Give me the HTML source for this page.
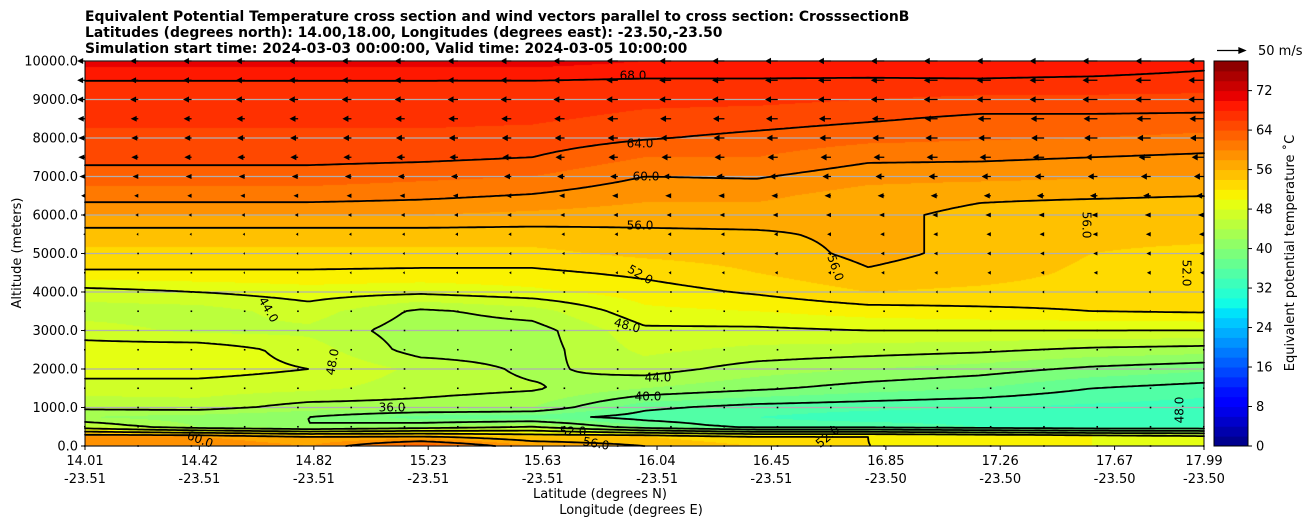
<!DOCTYPE html>
<html><head><meta charset="utf-8">
<style>
body{margin:0;background:#fff;width:1308px;height:526px;overflow:hidden;font-family:"DejaVu Sans","Liberation Sans",sans-serif;}
#wrap{position:relative;width:1308px;height:526px;}
canvas{position:absolute;left:85px;top:61px;}
svg{position:absolute;left:0;top:0;font-family:"DejaVu Sans","Liberation Sans",sans-serif;}
</style></head>
<body>
<div id="wrap">
<canvas id="fill" width="1119" height="385"></canvas>
<svg id="svg" width="1308" height="526"></svg>
</div>
<script>
// ---- data ----
const colFrac=[0,0.1,0.2,0.3,0.4,0.5,0.6,0.7,0.8,0.9,1.0];
const altLevels=[0,250,500,750,1000,1500,2000,2500,3000,3500,4000,4500,5000,5500,6000,6500,7000,7500,8000,8500,9000,9500,10000];
const theta0=[60,58,46,42,44.5,47,49,49,47,45,47,51.7,53.5,55,58,61,63,64.7,65.5,66.5,67.3,68,71];
const theta1=[60,58,42,41,45,47,49,49.5,45.5,45,48,51.7,53.5,55,58,61,63,64.7,65.5,66.5,67.3,68,71];
const theta2=[58,56,40,40,43,46.5,48,47,45.5,47,49,51.7,53.5,55,58,61,63,64.7,65.5,66.5,67.3,68,71];
const theta3=[64,56,42,37,43,45,45.5,43,42.8,43.5,48.5,51.5,53.5,55,58,60.5,62.5,64.5,65.5,66.5,67.3,68,71];
const theta4=[58,54,44,37,42,44.3,43.5,43,43,45,49.5,51.5,53.5,55,57.5,59.8,62,64,65.3,66.3,67.2,68,71];
const theta5=[56,54,38,35,36.5,42,45,46.5,47.5,49.5,51,52.5,54.5,55.5,57,58.5,60,62,64.2,65.5,66.5,67.8,70];
const theta6=[54,52,35,34,35,40.5,43,45.5,47.5,50,52.3,54,55,55.7,57,58.5,60.2,62,63.4,65,66.5,67.8,70];
const theta7=[52,52,35,33,34.5,39,42,45,48,51,54,55.8,56.5,56.5,56.5,57,58.8,60.5,62.6,64.3,66,67.7,70];
const theta8=[52,51,34,33,34,38,41,44.5,48,51.5,53.5,55,55.5,55.5,55.5,56.3,58.6,60.4,62.2,63.5,65.5,67.8,70];
const theta9=[50,50,33,32.5,33.5,36,39.5,43.5,48,52,53,53.5,54,54.5,55,56.2,58.2,60,62,63.5,65.5,67.5,70];
const theta10=[50,49,33,32,33,35,38.5,43,48,52.3,53,53,53.5,54.5,55,56,58,59.6,61.5,63.3,65.5,67,69];
const thetaCols=[theta0,theta1,theta2,theta3,theta4,theta5,theta6,theta7,theta8,theta9,theta10];
const contourLevels=[36,40,44,48,52,56,60,64,68];
const windLeft=[0,1,1,1,1,1,1,1,1,2,2,3,5,7,10,12,12,13,14,14,14];
const windRight=[0,1,1,1,1,1,2,3,4,7,8,9,11,14,18,22,25,26,28,28,28];
const xTickLat=["14.01","14.42","14.82","15.23","15.63","16.04","16.45","16.85","17.26","17.67","17.99"];
const xTickLon=["-23.51","-23.51","-23.51","-23.51","-23.51","-23.51","-23.51","-23.50","-23.50","-23.50","-23.50"];
const xTickFrac=[0,0.1022,0.2045,0.3067,0.409,0.5112,0.6134,0.7157,0.8179,0.9201,1.0];
const yTicks=[0,1000,2000,3000,4000,5000,6000,7000,8000,9000,10000];
const cbTicks=[0,8,16,24,32,40,48,56,64,72];
// ---- layout ----
const PX=85,PY=61,PW=1119,PH=385,CMAX=78;
const xS=f=>PX+f*PW, yS=a=>PY+PH-a/10000*PH;
const NS='http://www.w3.org/2000/svg';
const svg=document.getElementById('svg');
function mk(t,a,p){const e=document.createElementNS(NS,t);for(const k in a)e.setAttribute(k,a[k]);(p||svg).appendChild(e);return e;}
function interp(pts,t){for(let i=0;i<pts.length-1;i++){if(t<=pts[i+1][0]){const u=(t-pts[i][0])/(pts[i+1][0]-pts[i][0]);return pts[i][1]+u*(pts[i+1][1]-pts[i][1]);}}return pts[pts.length-1][1];}
const R=[[0,0],[0.35,0],[0.66,1],[0.89,1],[1,0.5]],G=[[0,0],[0.125,0],[0.375,1],[0.64,1],[0.91,0],[1,0]],B=[[0,0.5],[0.11,1],[0.34,1],[0.65,0],[1,0]];
function jet(t){return [interp(R,t)*255,interp(G,t)*255,interp(B,t)*255].map(Math.round);}
function binColor(v){let b=Math.floor(v/2);b=Math.max(0,Math.min(38,b));return jet((b+0.5)/39);}
function colAt(arr,alt){let i=0;while(i<altLevels.length-2&&alt>altLevels[i+1])i++;const u=(alt-altLevels[i])/(altLevels[i+1]-altLevels[i]);return arr[i]+u*(arr[i+1]-arr[i]);}
function field(f,alt){let j=Math.min(9,Math.floor(f*10));const u=(f-colFrac[j])/(colFrac[j+1]-colFrac[j]);return colAt(thetaCols[j],alt)*(1-u)+colAt(thetaCols[j+1],alt)*u;}
// ---- fill ----
const ctx=document.getElementById('fill').getContext('2d');
const img=ctx.createImageData(PW,PH);
for(let y=0;y<PH;y++){const alt=(PH-y-0.5)/PH*10000;for(let x=0;x<PW;x++){const c=binColor(field((x+0.5)/PW,alt));const o=(y*PW+x)*4;img.data[o]=c[0];img.data[o+1]=c[1];img.data[o+2]=c[2];img.data[o+3]=255;}}
ctx.putImageData(img,0,0);
// ---- gridlines ----
yTicks.forEach(a=>{const g=mk('line',{x1:PX,x2:PX+PW,y1:yS(a),y2:yS(a),stroke:'#b0b0b0','stroke-width':1.2});

});
// ---- contours (marching squares) ----
const sx=3,sy=2,nx=Math.ceil(PW/sx),ny=Math.ceil(PH/sy);
const vals=[];for(let j=0;j<=ny;j++){const row=[];const yy=Math.min(PH,j*sy);for(let i=0;i<=nx;i++){const xx=Math.min(PW,i*sx);row.push(field(xx/PW,(PH-yy)/PH*10000));}vals.push(row);}
contourLevels.forEach(L=>{let d='';
for(let j=0;j<ny;j++)for(let i=0;i<nx;i++){const x0=PX+Math.min(PW,i*sx),x1=PX+Math.min(PW,(i+1)*sx),y0=PY+Math.min(PH,j*sy),y1=PY+Math.min(PH,(j+1)*sy);
const a=vals[j][i],b=vals[j][i+1],c=vals[j+1][i+1],e=vals[j+1][i];const pts=[];
if((a-L)*(b-L)<0)pts.push([x0+(L-a)/(b-a)*(x1-x0),y0]);
if((b-L)*(c-L)<0)pts.push([x1,y0+(L-b)/(c-b)*(y1-y0)]);
if((e-L)*(c-L)<0)pts.push([x0+(L-e)/(c-e)*(x1-x0),y1]);
if((a-L)*(e-L)<0)pts.push([x0,y0+(L-a)/(e-a)*(y1-y0)]);
for(let k=0;k+1<pts.length;k+=2)d+='M'+pts[k][0].toFixed(1)+' '+pts[k][1].toFixed(1)+'L'+pts[k+1][0].toFixed(1)+' '+pts[k+1][1].toFixed(1);}
const p=mk('path',{d:d,stroke:'#000','stroke-width':1.8,fill:'none','stroke-linecap':'round'});

});
// contour labels
[[268,310,44,60],[333,362,48,-80],[633,76,68,0],[640,144,64,0],[646,177,60,0],[640,226,56,0],[640,275,52,30],[627,326,48,15],[658,378,44,0],[648,397,40,0],[392,408,36,0],[200,440,60,20],[1086,225,56,90],[835,268,56,70],[1186,273,52,90],[1180,410,48,-90],[573,432,52,0],[596,444,56,10],[828,437,52,-40]].forEach(l=>{
const t=mk('text',{x:l[0],y:l[1],'font-size':12,'text-anchor':'middle','dominant-baseline':'middle',transform:`rotate(${l[3]} ${l[0]} ${l[1]})`});t.textContent=l[2]+'.0';

});
// ---- wind arrows ----
const AS=28/50;
for(let k=0;k<=20;k++){for(let j=0;j<=21;j++){const f=j/21;const sp=windLeft[k]*(1-f)+windRight[k]*f;const len=sp*AS;const x=xS(f),y=yS(k*500);
let d;const hl=Math.min(len,6),hw=Math.min(3.2,1+len*0.25);
if(len<1.5){d=`M${x-1} ${y-0.8}L${x+0.6} ${y-0.8}L${x+0.6} ${y+0.8}L${x-1} ${y+0.8}Z`;}
else d=`M${x-len} ${y}L${x-len+hl} ${y-hw}L${x-len+hl} ${y-0.6}L${x} ${y-0.6}L${x} ${y+0.6}L${x-len+hl} ${y+0.6}L${x-len+hl} ${y+hw}Z`;
const a=mk('path',{d:d,fill:'#000'});

}}
// ---- frame & axes ----
const fr=mk('rect',{x:PX,y:PY,width:PW,height:PH,fill:'none',stroke:'#000','stroke-width':1});


yTicks.forEach(a=>{mk('line',{x1:PX-4,x2:PX,y1:yS(a),y2:yS(a),stroke:'#000'});
const t=mk('text',{x:PX-7,y:yS(a)+4.5,'font-size':13,'text-anchor':'end'});t.textContent=a.toFixed(1);

});
xTickFrac.forEach((f,i)=>{const x=xS(f);mk('line',{x1:x,x2:x,y1:PY+PH,y2:PY+PH+4,stroke:'#000'});
const t=mk('text',{x:x,y:465,'font-size':13,'text-anchor':'middle'});t.textContent=xTickLat[i];


const t2=mk('text',{x:x,y:483,'font-size':13,'text-anchor':'middle'});t2.textContent=xTickLon[i];

});
function label(x,y,txt,name,extra){const t=mk('text',Object.assign({x:x,y:y,'font-size':13},extra||{}));t.textContent=txt;

return t;}
label(600,498,'Latitude (degrees N)','x-axis-title-lat',{'text-anchor':'middle'});
label(631,514,'Longitude (degrees E)','x-axis-title-lon',{'text-anchor':'middle'});
label(21,253,'Altitude (meters)','y-axis-title',{'text-anchor':'middle',transform:'rotate(-90 21 253)'});
label(85,21,'Equivalent Potential Temperature cross section and wind vectors parallel to cross section: CrosssectionB','title-line-1',{'font-weight':'bold','font-size':13.9});
label(85,37,'Latitudes (degrees north): 14.00,18.00, Longitudes (degrees east): -23.50,-23.50','title-line-2',{'font-weight':'bold','font-size':13.9});
label(85,53,'Simulation start time: 2024-03-03 00:00:00, Valid time: 2024-03-05 10:00:00','title-line-3',{'font-weight':'bold','font-size':13.9});
// quiver key
const qk=mk('path',{d:'M1217 50.5L1239 50.5L1239 48L1245 50.5L1239 53L1239 50.5Z',stroke:'#000','stroke-width':1.3,fill:'#000'});


label(1258,55,'50 m/s','quiver-key-label');
// ---- colorbar ----
const CX=1214,CW=34;
for(let b=0;b<39;b++){const y0=PY+PH-(b+1)*2/CMAX*PH;const c=jet((b+0.5)/39);
const r=mk('rect',{x:CX,y:y0,width:CW,height:2/CMAX*PH+0.5,fill:`rgb(${c})`});

}
const cf=mk('rect',{x:CX,y:PY,width:CW,height:PH,fill:'none',stroke:'#000'});


cbTicks.forEach(v=>{const y=PY+PH-v/CMAX*PH;mk('line',{x1:CX+CW,x2:CX+CW+4,y1:y,y2:y,stroke:'#000'});
label(CX+CW+8,y+4.5,String(v),'colorbar-tick-label');});
label(1294,253,'Equivalent potential temperature \u02DAC','colorbar-title',{'text-anchor':'middle',transform:'rotate(-90 1294 253)'});
</script>
</body></html>
